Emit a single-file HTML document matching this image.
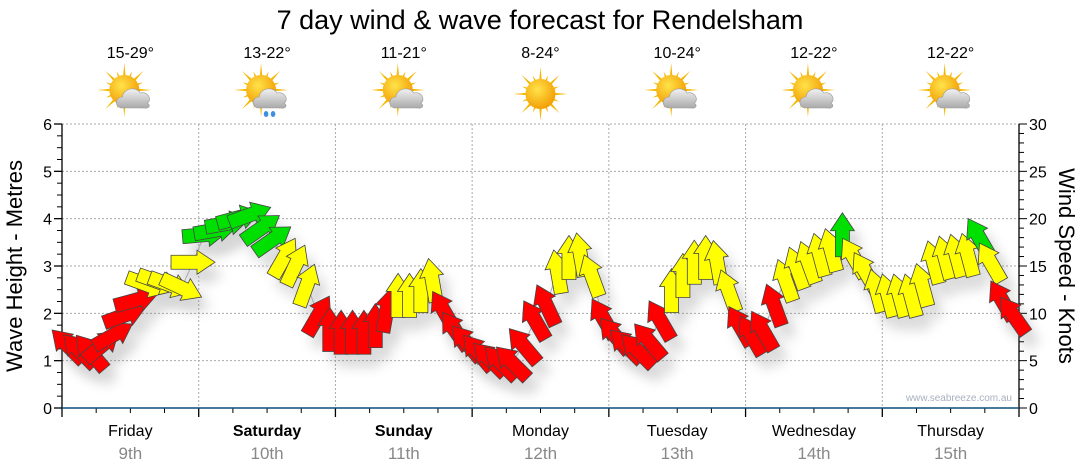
<!DOCTYPE html>
<html><head><meta charset="utf-8"><style>
body{margin:0;background:#fff;font-family:"Liberation Sans",sans-serif;}
svg{display:block}
</style></head><body>
<svg id="chart" width="1080" height="475" viewBox="0 0 1080 475" xmlns="http://www.w3.org/2000/svg">
<defs>
<filter id="sh" x="-50%" y="-50%" width="200%" height="200%"><feGaussianBlur stdDeviation="6"/></filter>
<radialGradient id="sunG" cx="40%" cy="35%" r="70%"><stop offset="0" stop-color="#ffe34a"/><stop offset="1" stop-color="#f29a00"/></radialGradient>
<linearGradient id="cloudG" x1="0" y1="0" x2="0" y2="1"><stop offset="0" stop-color="#f2f2f2"/><stop offset="1" stop-color="#a9a9a9"/></linearGradient>
</defs>
<text x="540" y="29" font-size="27" text-anchor="middle" fill="#000">7 day wind &amp; wave forecast for Rendelsham</text>
<g id="grid"></g><g id="axes"></g><g id="icons"></g>
<g id="shadows" opacity="0.3"></g><polyline id="trail" fill="none" stroke="#aaa" stroke-width="1"/><g id="arrows"></g>
<text x="1012" y="401" font-size="10" fill="#a8b0c0" text-anchor="end">www.seabreeze.com.au</text>
<text transform="translate(22,266) rotate(-90)" font-size="22" text-anchor="middle">Wave Height - Metres</text>
<text transform="translate(1059,266) rotate(90)" font-size="22" text-anchor="middle">Wind Speed - Knots</text>
</svg>
<script>
const days=["Friday","Saturday","Sunday","Monday","Tuesday","Wednesday","Thursday"];
const dates=["9th","10th","11th","12th","13th","14th","15th"];
const boldDay=[false,true,true,false,false,false,false];
const temps=["15-29°","13-22°","11-21°","8-24°","10-24°","12-22°","12-22°"];
const weather=["partly","showers","partly","sunny","partly","partly","partly"];
const leftTicks=[0,1,2,3,4,5,6];
const rightTicks=[0,5,10,15,20,25,30];
const windSpeed=[6.6,6.1,5.9,6.6,7.7,9.8,11.4,13.0,13.3,13.0,12.7,15.4,18.3,18.8,19.5,20.1,20.4,19.0,17.8,15.9,15.1,13.0,9.8,8.3,8.0,8.0,8.0,8.7,10.3,11.9,11.9,12.4,13.5,10.3,8.2,6.9,5.9,5.2,4.8,4.8,6.6,9.3,10.9,14.4,15.9,16.2,14.0,9.5,7.7,6.6,6.1,7.1,9.3,12.4,14.0,15.4,15.9,15.4,12.4,8.7,7.7,8.2,10.9,13.5,14.8,15.4,16.2,16.7,18.3,15.9,14.4,12.4,11.9,11.9,11.9,13.0,15.4,15.9,16.1,16.2,18.0,15.4,11.4,9.8];
const windDir=[-45,-45,-40,50,60,70,75,110,110,110,115,90,85,80,80,75,70,55,55,30,25,20,30,0,0,0,0,0,10,0,0,0,-10,-30,-35,-40,-40,-45,-45,-45,-40,-30,-25,-10,0,-10,-20,-30,-40,-45,-45,-40,-30,0,0,0,0,-10,-20,-30,-30,-30,-20,-20,-20,-20,-15,-15,0,-30,-30,-15,-15,-15,-15,-15,-15,-15,-15,-15,-30,-30,-30,-35];

const NS="http://www.w3.org/2000/svg";
const X0=62,X1=1019,Y0=408,YT=124;
const dayW=(X1-X0)/7;
function yL(m){return Y0-(Y0-YT)*m/6;}
function yR(k){return Y0-(Y0-YT)*k/30;}
function xT(i,n){return X0+(X1-X0)*(i+0.5)/n;}
function mk(tag,attrs,parent){const e=document.createElementNS(NS,tag);for(const k in attrs)e.setAttribute(k,attrs[k]);parent.appendChild(e);return e;}
const grid=document.getElementById('grid'),axes=document.getElementById('axes'),icons=document.getElementById('icons');
leftTicks.forEach(t=>{if(t>0){const l=mk('line',{x1:X0,x2:X1,y1:yL(t),y2:yL(t),stroke:'#aaa','stroke-dasharray':'2,2'},grid);

}
const tx=mk('text',{x:X0-10,y:yL(t)+6,'font-size':16,'text-anchor':'end'},axes);tx.textContent=t;

});
for(let m=0;m<=24;m++){const y=Y0-(Y0-YT)*m/24;mk('line',{x1:X0-(m%4?5:8),x2:X0,y1:y,y2:y,stroke:'#000','stroke-width':m%4?1:1.3},axes);}
for(let k=0;k<=30;k++){const y=yR(k);mk('line',{x1:X1,x2:X1+(k%5?5:8),y1:y,y2:y,stroke:'#000'},axes);}
rightTicks.forEach(t=>{const tx=mk('text',{x:X1+10,y:yR(t)+6,'font-size':16},axes);tx.textContent=t;

});
mk('line',{x1:X0,x2:X0,y1:YT,y2:Y0,stroke:'#000','stroke-width':1.3},axes);
mk('line',{x1:X1,x2:X1,y1:YT,y2:Y0,stroke:'#000','stroke-width':1.3},axes);
for(let d=0;d<=7;d++){const x=X0+d*dayW;
if(d>0&&d<7){const g=mk('line',{x1:x,x2:x,y1:YT,y2:Y0,stroke:'#aaa','stroke-dasharray':'2,2'},grid);

}
mk('line',{x1:x,x2:x,y1:Y0,y2:Y0+9,stroke:'#000','stroke-width':1.3},axes);
if(d<7)for(let q=1;q<4;q++){const xq=x+q*dayW/4;mk('line',{x1:xq,x2:xq,y1:Y0,y2:Y0+5,stroke:'#000'},axes);}}
mk('line',{x1:X0,x2:X1,y1:Y0,y2:Y0,stroke:'#0b4f7c','stroke-width':1.5},axes);
days.forEach((d,i)=>{const cx=X0+(i+0.5)*dayW;
const t=mk('text',{x:cx,y:436,'font-size':16,'text-anchor':'middle','font-weight':boldDay[i]?'bold':'normal'},axes);t.textContent=d;


const t2=mk('text',{x:cx,y:459,'font-size':17,'text-anchor':'middle',fill:'#888'},axes);t2.textContent=dates[i];


const t3=mk('text',{x:cx,y:58,'font-size':16,'text-anchor':'middle'},icons);t3.textContent=temps[i];


const g=mk('g',{transform:`translate(${cx},94)`},icons);


const sx=weather[i]==='sunny'?0:-6,sy=weather[i]==='sunny'?0:-4;
let rays='';for(let r=0;r<16;r++){const a=r*Math.PI/8,L=r%2?20:27;rays+=`M${sx+Math.cos(a-0.12)*12},${sy+Math.sin(a-0.12)*12}L${sx+Math.cos(a)*L},${sy+Math.sin(a)*L}L${sx+Math.cos(a+0.12)*12},${sy+Math.sin(a+0.12)*12}Z`;}
mk('path',{d:rays,fill:'#f5b800'},g);
mk('circle',{cx:sx,cy:sy,r:15,fill:'url(#sunG)'},g);
if(weather[i]!=='sunny'){mk('path',{d:'M-8,14 C-16,14 -16,3 -8,3 C-7,-6 6,-8 10,-1 C18,-3 22,6 17,9 C21,12 18,15 14,14 Z',fill:'url(#cloudG)',stroke:'#999','stroke-width':0.6},g);}
if(weather[i]==='showers'){mk('ellipse',{cx:-1,cy:20,rx:2.3,ry:3,fill:'#3d8fe0'},g);mk('ellipse',{cx:6,cy:20,rx:2.3,ry:3,fill:'#3d8fe0'},g);}
});
const arrowsG=document.getElementById('arrows'),shG=document.getElementById('shadows');
const n=windSpeed.length;const pts=[];
const AP='M0,-22 L12,-4 L7,-4 L7,22 L-7,22 L-7,-4 L-12,-4 Z';
windSpeed.forEach((k,i)=>{const x=xT(i,n),y=yR(k);pts.push(x.toFixed(1)+','+y.toFixed(1));
const col=k<11.5?'#ff0000':(k<17.5?'#ffff00':'#00e000');
const s=mk('path',{d:AP,fill:'#777',filter:'url(#sh)',transform:`translate(${x+8},${y+12}) rotate(${windDir[i]})`},shG);


const a=mk('path',{d:AP,fill:col,stroke:'#444','stroke-width':0.8,transform:`translate(${x},${y}) rotate(${windDir[i]})`},arrowsG);

});
document.getElementById('trail').setAttribute('points',pts.join(' '));
</script>
</body></html>
